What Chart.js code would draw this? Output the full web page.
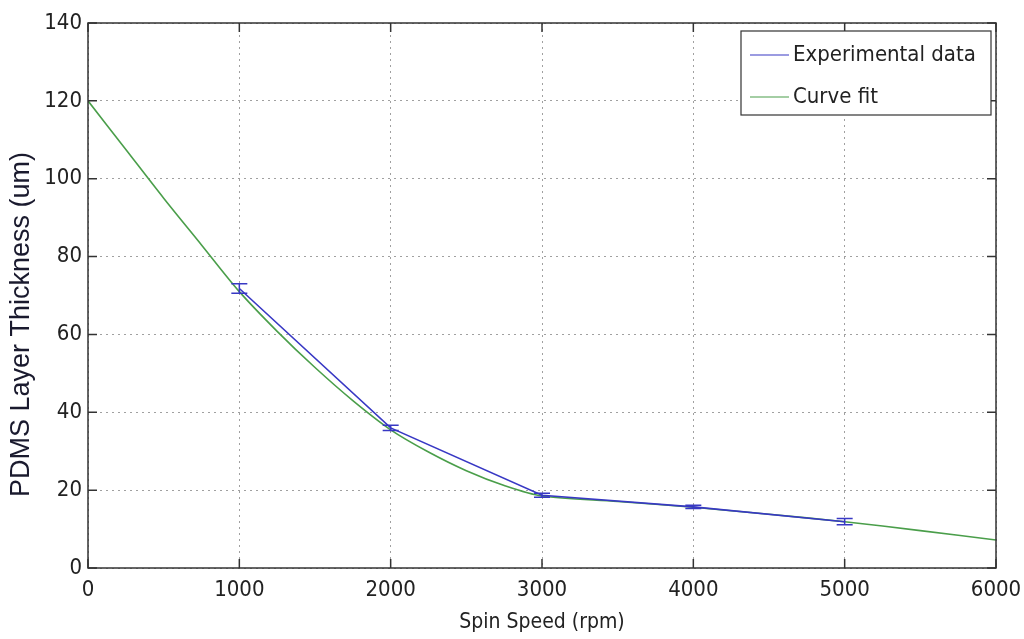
<!DOCTYPE html>
<html>
<head>
<meta charset="utf-8">
<script src="https://cdn.jsdelivr.net/npm/chart.js@4.4.0/dist/chart.umd.min.js"></script>
<style>
  html, body { margin: 0; padding: 0; background: #fff; }
  #wrap { width: 1024px; height: 639px; }
</style>
</head>
<body>
<div id="wrap"><canvas id="grafico"></canvas></div>
<script>
"use strict";

// experimental data (spin speed rpm -> thickness um) with error bars
const expSpeed = [1000, 2000, 3000, 4000, 5000];
const expThick = [71.8, 36.0, 18.7, 15.7, 11.9];
const expErr = [1.2, 0.7, 0.5, 0.4, 0.8];

// curve fit
const fitSpeed = [0, 250, 500, 750, 1000, 1250, 1500, 1750, 2000, 2250, 2500, 2750, 3000, 3500, 4000, 4500, 5000, 5500, 6000];
const fitThick = [120, 107.5, 95, 83, 71, 60.8, 51.5, 43, 35.5, 29.8, 25, 21.2, 18.5, 17.1, 15.6, 13.8, 11.9, 9.6, 7.2];

const xTicks = [0, 1000, 2000, 3000, 4000, 5000, 6000];
const yTicks = [0, 20, 40, 60, 80, 100, 120, 140];

const Y_TITULO = "PDMS Layer Thickness (um)";
const FONT = "'Liberation Sans Narrow', 'DejaVu Sans Condensed', 'Liberation Sans', sans-serif";
const AZUL = "#3838c4", VERDE = "#4a9e4a";

const pts = (xs, ys) => xs.map((x, i) => ({ x, y: ys[i] }));

// box, inner ticks, error bars, legend and y title in matlab style
const estiloMatlab = {
    id: "estiloMatlab",
    afterDatasetsDraw(chart) {
        const { ctx, chartArea: a, scales: { x, y } } = chart;
        ctx.save();
        // error bars
        ctx.strokeStyle = AZUL; ctx.lineWidth = 1.5;
        expSpeed.forEach((s, i) => {
            const px = x.getPixelForValue(s);
            const y1 = y.getPixelForValue(expThick[i] + expErr[i]);
            const y2 = y.getPixelForValue(expThick[i] - expErr[i]);
            ctx.beginPath();
            ctx.moveTo(px, y1); ctx.lineTo(px, y2);
            ctx.moveTo(px - 8, y1); ctx.lineTo(px + 8, y1);
            ctx.moveTo(px - 8, y2); ctx.lineTo(px + 8, y2);
            ctx.stroke();
        });
        // axes box
        ctx.strokeStyle = "#333"; ctx.lineWidth = 1.5;
        ctx.strokeRect(a.left, a.top, a.right - a.left, a.bottom - a.top);
        // inner ticks
        ctx.beginPath();
        xTicks.forEach(t => {
            const px = x.getPixelForValue(t);
            ctx.moveTo(px, a.bottom); ctx.lineTo(px, a.bottom - 9);
            ctx.moveTo(px, a.top); ctx.lineTo(px, a.top + 9);
        });
        yTicks.forEach(t => {
            const py = y.getPixelForValue(t);
            ctx.moveTo(a.left, py); ctx.lineTo(a.left + 9, py);
            ctx.moveTo(a.right, py); ctx.lineTo(a.right - 9, py);
        });
        ctx.stroke();
        // legend
        const lx = a.right - 255, ly = a.top + 8, lw = 250, lh = 84;
        ctx.fillStyle = "#fff";
        ctx.fillRect(lx, ly, lw, lh);
        ctx.strokeStyle = "#333"; ctx.lineWidth = 1.2;
        ctx.strokeRect(lx, ly, lw, lh);
        ctx.font = "22px " + FONT;
        ctx.textBaseline = "middle";
        chart.data.datasets.forEach((ds, i) => {
            const cy = ly + 24 + i * 42;
            ctx.strokeStyle = ds.borderColor; ctx.lineWidth = 1.2;
            ctx.beginPath(); ctx.moveTo(lx + 9, cy); ctx.lineTo(lx + 48, cy); ctx.stroke();
            ctx.fillStyle = "#222";
            ctx.fillText(ds.label, lx + 52, cy);
        });
        // y title, sits a bit lower than centre like the original
        ctx.translate(22, (a.top + a.bottom) / 2 + 29);
        ctx.rotate(-Math.PI / 2);
        ctx.font = "27px 'Liberation Sans', Arial, sans-serif";
        ctx.textAlign = "center";
        ctx.fillStyle = "#1a1a2e";
        ctx.fillText(Y_TITULO, 0, 0);
        ctx.restore();
    }
};

new Chart(document.getElementById("grafico"), {
    type: "line",
    data: {
        datasets: [
            { label: "Experimental data", data: pts(expSpeed, expThick), borderColor: AZUL, borderWidth: 1.6, pointRadius: 0, tension: 0, order: 1 },
            { label: "Curve fit", data: pts(fitSpeed, fitThick), borderColor: VERDE, borderWidth: 1.6, pointRadius: 0, tension: 0.3, order: 2 }
        ]
    },
    options: {
        responsive: true, maintainAspectRatio: false, animation: false,
        layout: { padding: { top: 23, right: 28, left: 0, bottom: 0 } },
        plugins: { legend: { display: false }, tooltip: { enabled: false } },
        scales: {
            x: {
                type: "linear", min: 0, max: 6000,
                afterBuildTicks: s => { s.ticks = xTicks.map(v => ({ value: v })); },
                afterFit: s => { s.height = 71; s.paddingRight = 0; },
                grid: { color: "#a0a0a0", drawTicks: false },
                border: { display: false, dash: [2, 4] },
                ticks: { color: "#222", padding: 9, font: { family: FONT, size: 22 }, maxRotation: 0, callback: v => String(v) },
                title: { display: true, text: "Spin Speed (rpm)", color: "#222", padding: { top: 0 }, font: { family: FONT, size: 21 } }
            },
            y: {
                min: 0, max: 140,
                afterBuildTicks: s => { s.ticks = yTicks.map(v => ({ value: v })); },
                afterFit: s => { s.width = 88; },
                grid: { color: "#a0a0a0", drawTicks: false },
                border: { display: false, dash: [2, 4] },
                ticks: { color: "#222", padding: 6, font: { family: FONT, size: 22 } },
                title: { display: false }
            }
        }
    },
    plugins: [estiloMatlab]
});
</script>
</body>
</html>
